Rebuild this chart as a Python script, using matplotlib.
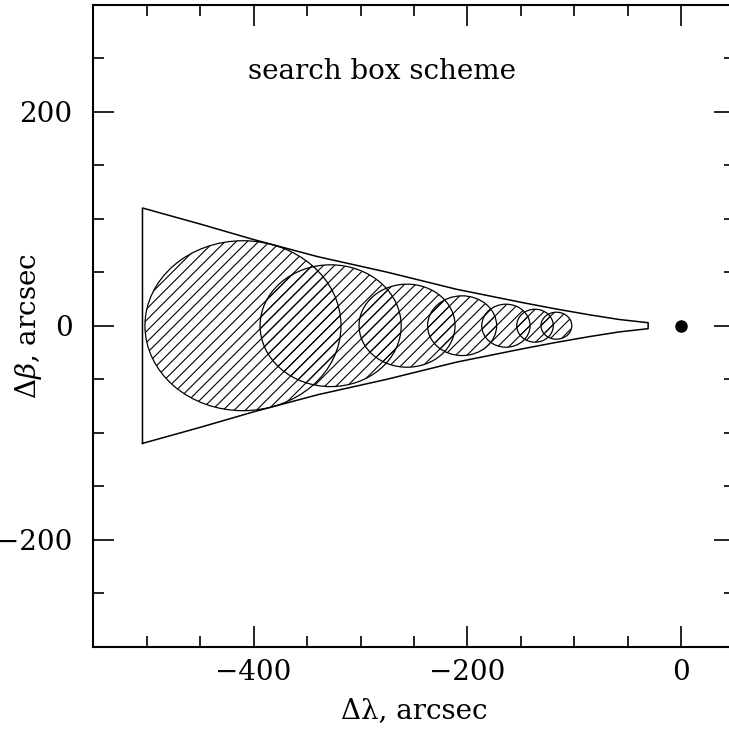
import matplotlib
matplotlib.use("Agg")
import matplotlib.pyplot as plt
from matplotlib.patches import Ellipse
from matplotlib.ticker import MultipleLocator

# Search circles along the ecliptic-longitude offset (arcsec)
circle_x = [-410.0, -328.0, -256.5, -205.0, -164.0, -136.8, -116.8]
circle_rx = [91.7, 66.0, 44.9, 32.3, 22.6, 17.1, 14.4]
circle_ry = [79.4, 56.9, 38.8, 27.9, 20.1, 15.4, 12.6]

# Upper edge of the search cone (mirrored for the lower edge)
edge_x = [-504.0, -450.0, -400.0, -340.0, -275.0, -210.0, -148.0,
          -118.0, -86.0, -58.0, -31.0]
edge_y = [110.0, 95.0, 80.5, 64.5, 50.0, 34.0, 21.5,
          15.8, 10.2, 5.8, 2.8]

# Target position
target_x = [0.0]
target_y = [0.0]

title_text = "search box scheme"
xlabel_text = "Δλ, arcsec"
ylabel_text = r"$\Delta\beta$, arcsec"

plt.rcParams["font.family"] = ["DejaVu Serif"]
plt.rcParams["mathtext.fontset"] = "dejavuserif"
plt.rcParams["hatch.linewidth"] = 0.8

W, H = 729, 731
fig = plt.figure(figsize=(W / 100, H / 100), dpi=100)
left_px, top_px = 93.3, 4.7
ax_w_px, ax_h_px = 641.4, 642.0
ax = fig.add_axes([left_px / W, 1 - (top_px + ax_h_px) / H, ax_w_px / W, ax_h_px / H])

ax.set_xlim(-550, 50)
ax.set_ylim(-300, 300)

# cone outline: left side, upper edge, apex, lower edge
poly_x = [edge_x[0]] + edge_x + [edge_x[-1]] + edge_x[::-1]
poly_y = [-edge_y[0]] + edge_y + [-edge_y[-1]] + [-v for v in edge_y[::-1]]
ax.plot(poly_x, poly_y, color="black", lw=1.1, solid_joinstyle="round")

for cx, rx, ry in zip(circle_x, circle_rx, circle_ry):
    ax.add_patch(Ellipse((cx, 0.0), 2 * rx, 2 * ry, fill=False, hatch="///",
                         edgecolor="black", lw=0.9))

ax.plot(target_x, target_y, "o", color="black", ms=8)

ax.text(-280, 231, title_text, ha="center", va="baseline", fontsize=20)

ax.xaxis.set_major_locator(MultipleLocator(200))
ax.xaxis.set_minor_locator(MultipleLocator(50))
ax.yaxis.set_major_locator(MultipleLocator(200))
ax.yaxis.set_minor_locator(MultipleLocator(50))
ax.tick_params(which="both", direction="in", top=True, right=True, width=1.2,
               labelsize=20)
ax.tick_params(which="major", length=15)
ax.tick_params(which="minor", length=8)
ax.tick_params(axis="x", pad=9)
ax.tick_params(axis="y", pad=15)
for sp in ax.spines.values():
    sp.set_linewidth(1.5)

ax.set_xlabel(xlabel_text, fontsize=20)
ax.xaxis.set_label_coords(0.5, -0.078)
ax.xaxis.label.set_va("top")
ax.set_ylabel(ylabel_text, fontsize=20)
ax.yaxis.set_label_coords(-0.077, 0.5)

fig.savefig("out.png", dpi=100)
